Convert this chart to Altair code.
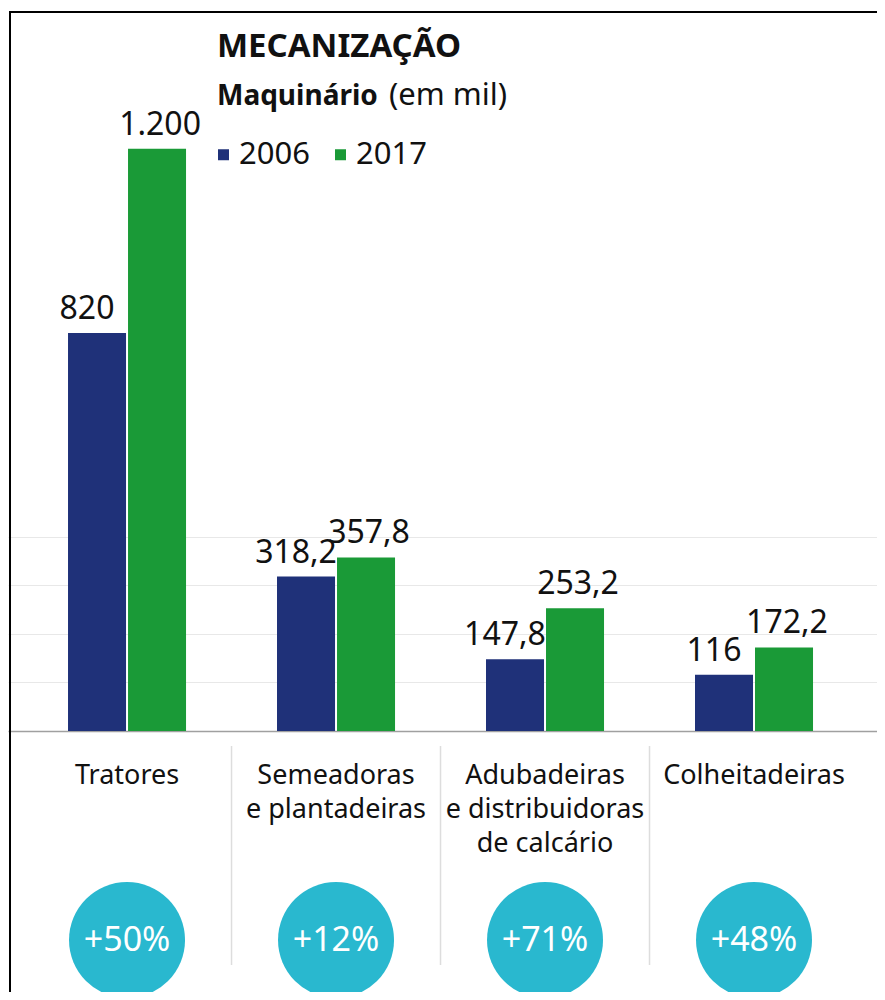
import altair as alt
import pandas as pd

# ---- data ----
categorias = ["Tratores", "Semeadoras\ne plantadeiras",
              "Adubadeiras\ne distribuidoras\nde calcário", "Colheitadeiras"]
anos = ["2006", "2017"]
valores_2006 = [820, 318.2, 147.8, 116]
valores_2017 = [1200, 357.8, 253.2, 172.2]
variacao = ["+50%", "+12%", "+71%", "+48%"]
grade = [100, 200, 300, 400]

titulo = "MECANIZAÇÃO"
subtitulo_negrito = "Maquinário"
subtitulo = "(em mil)"

# ---- styles ----
AZUL = "#1f3179"
VERDE = "#1a9a37"
CIANO = "#29b8cf"
TEXTO = "#111111"
FONTE = "Noto Sans"

rows = []
for c, a, b in zip(categorias, valores_2006, valores_2017):
    rows.append({"categoria": c, "ano": anos[0], "valor": a})
    rows.append({"categoria": c, "ano": anos[1], "valor": b})
df = pd.DataFrame(rows)
df_cat = pd.DataFrame({"categoria": categorias, "variacao": variacao})
one = pd.DataFrame({"k": [0]})

W, H = 869, 723
x_scale = alt.Scale(domain=categorias, paddingInner=0, paddingOuter=0.079, align=0.44)
y_scale = alt.Scale(domain=[0, 1490], nice=False)
xoff = alt.XOffset("ano:N", scale=alt.Scale(domain=anos, paddingInner=0.0333, paddingOuter=0.758))

x_axis = alt.Axis(title=None, labelExpr="split(datum.label, '\\n')", labelFontSize=27,
                  labelFont=FONTE, labelColor=TEXTO, labelLineHeight=34, labelPadding=31,
                  ticks=False, tickSize=0, domainColor="#a0a0a0", domainWidth=1.5,
                  labelAngle=0, labelBaseline="top", labelLimit=400)
y_axis = alt.Axis(values=grade, grid=True, gridColor="#e8e8e8", gridWidth=1,
                  labels=False, ticks=False, domain=False, title=None)

fmt = ("replace(replace(replace(format(datum.valor, ',.1~f'), ',', '#'), '.', ','), '#', '.')")

X = alt.X("categoria:N", scale=x_scale, title=None)
Y = alt.Y("valor:Q", scale=y_scale, title=None)

base = alt.Chart(df)

bars = base.mark_bar().encode(
    x=alt.X("categoria:N", scale=x_scale, axis=x_axis),
    xOffset=xoff,
    y=alt.Y("valor:Q", scale=y_scale, axis=y_axis),
    color=alt.Color("ano:N", scale=alt.Scale(domain=anos, range=[AZUL, VERDE]),
                    legend=alt.Legend(orient="none", legendX=200, legendY=131,
                                      direction="horizontal", title=None,
                                      symbolType="square", symbolSize=121,
                                      labelFontSize=31, labelFont=FONTE, labelColor=TEXTO,
                                      columnPadding=15, labelOffset=0, symbolStrokeWidth=0)),
)

def labels(ano, dx):
    return base.transform_filter(alt.datum.ano == ano).transform_calculate(
        rotulo=fmt
    ).mark_text(baseline="alphabetic", dy=-14, dx=dx, fontSize=32, font=FONTE,
                color=TEXTO).encode(
        x=X, xOffset=xoff, y=Y, text="rotulo:N",
    )

lab06 = labels(anos[0], -10)
lab17 = labels(anos[1], 3)

seps = alt.Chart(df_cat).transform_filter(alt.datum.categoria != categorias[0]).mark_rule(
    color="#dddddd", strokeWidth=1.5).encode(
    x=alt.X("categoria:N", scale=x_scale, title=None, bandPosition=0),
    y=alt.value(738), y2=alt.value(957))

circles = alt.Chart(df_cat).mark_point(shape="circle", filled=True, size=13456,
                                       color=CIANO, opacity=1).encode(
    x=X, y=alt.value(932))

pct = alt.Chart(df_cat).mark_text(color="white", fontSize=34, font=FONTE,
                                  baseline="middle").encode(
    x=X, y=alt.value(933), text="variacao:N")

t1 = alt.Chart(one).mark_text(align="left", baseline="alphabetic", fontSize=33,
                              fontWeight="bold", font=FONTE, color=TEXTO).encode(
    x=alt.value(209), y=alt.value(49), text=alt.value(titulo))
t2 = alt.Chart(one).mark_text(align="left", baseline="alphabetic", fontSize=28,
                              fontWeight="bold", font=FONTE, color=TEXTO).encode(
    x=alt.value(209), y=alt.value(97), text=alt.value(subtitulo_negrito))
t3 = alt.Chart(one).mark_text(align="left", baseline="alphabetic", fontSize=31,
                              font=FONTE, color=TEXTO).encode(
    x=alt.value(381), y=alt.value(97), text=alt.value(subtitulo))

frame_l = alt.Chart(one).mark_rule(color="black", strokeWidth=2).encode(
    x=alt.value(2), y=alt.value(3), y2=alt.value(984))
frame_t = alt.Chart(one).mark_rule(color="black", strokeWidth=2).encode(
    x=alt.value(1), x2=alt.value(W), y=alt.value(4))

chart = alt.layer(bars, lab06, lab17, seps, circles, pct, t1, t2, t3, frame_l, frame_t).properties(
    width=W, height=H,
    padding={"left": 0, "top": 0, "right": 0, "bottom": 261},
    autosize=alt.AutoSizeParams(type="none"),
).configure_view(stroke=None)

chart.save("out.html", embed_options={"renderer": "svg", "actions": False})
